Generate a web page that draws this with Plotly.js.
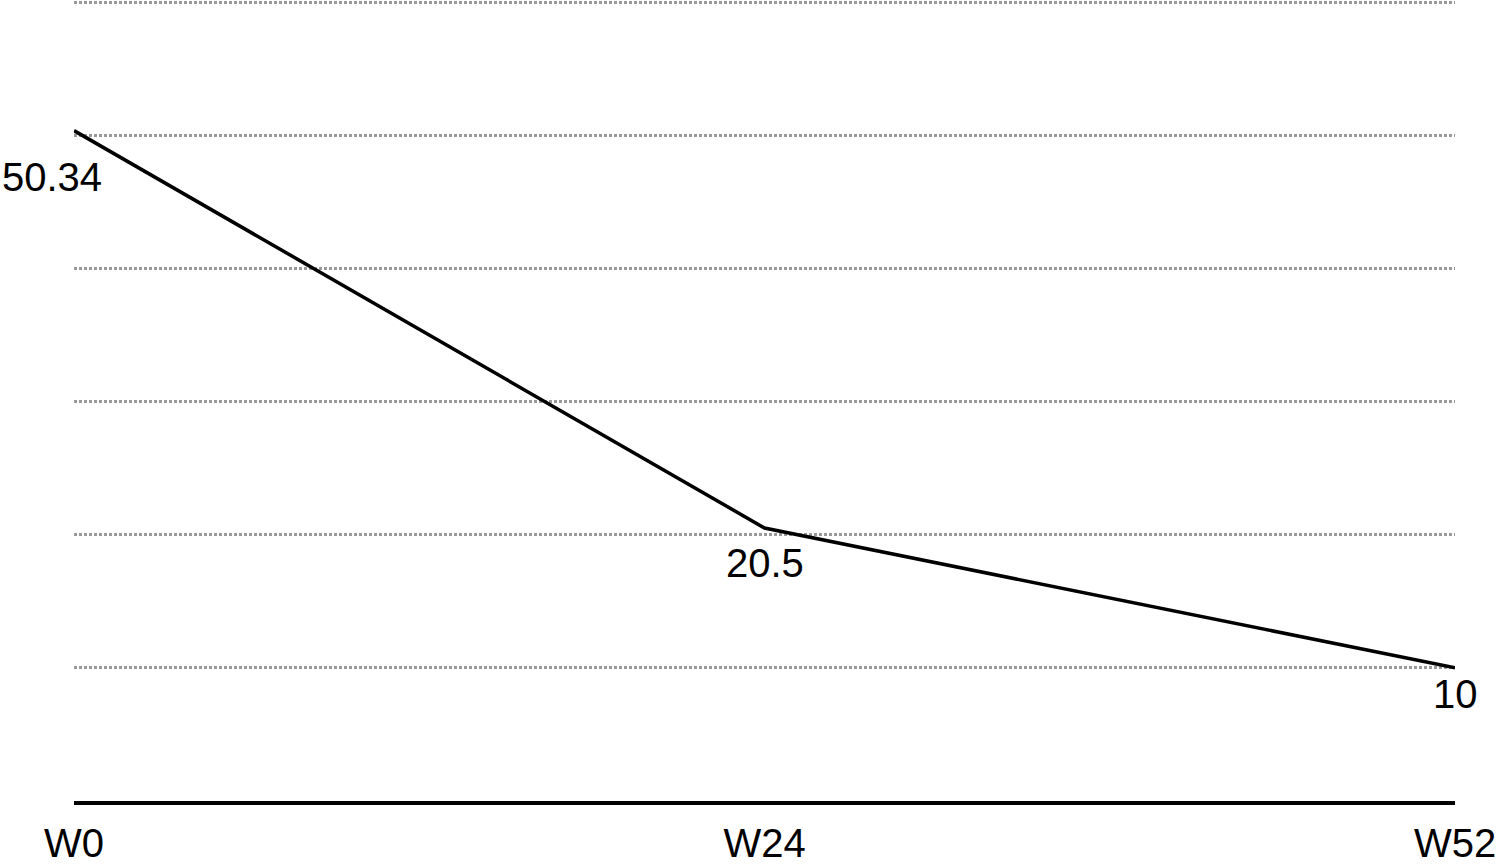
<!DOCTYPE html>
<html>
<head>
<meta charset="utf-8">
<script src="https://cdn.plot.ly/plotly-3.0.1.min.js"></script>
<style>html,body{margin:0;padding:0;background:#fff;}#chart{width:1500px;height:867px;}</style>
</head>
<body>
<div id="chart"></div>
<script>
const categories = ["W0", "W24", "W52"];
const values = [50.34, 20.5, 10];
const labels = ["50.34", "20.5", "10"];
const yTicks = [0, 10, 20, 30, 40, 50, 60];

// label offsets (styling)
const labelShiftX = [-22, 0, 0];
const labelShiftY = [-46, -35, -26];

const trace = {
  x: categories,
  y: values,
  type: "scatter",
  mode: "lines",
  line: {color: "#000", width: 3.5},
  hoverinfo: "skip",
  cliponaxis: false
};

const annotations = categories.map((c, i) => ({
  x: c, y: values[i], xref: "x", yref: "y",
  text: labels[i], showarrow: false,
  xshift: labelShiftX[i], yshift: labelShiftY[i],
  font: {family: "Liberation Sans, Arial, Helvetica, sans-serif", size: 40, color: "#000"}
}));

const layout = {
  width: 1500, height: 867,
  margin: {l: 74, r: 45, t: 0, b: 66, pad: 0},
  paper_bgcolor: "#fff", plot_bgcolor: "#fff",
  showlegend: false,
  font: {family: "Liberation Sans, Arial, Helvetica, sans-serif", size: 40, color: "#000"},
  xaxis: {
    type: "category", range: [0, 2],
    showgrid: false, zeroline: false,
    showline: true, linecolor: "#000", linewidth: 3.5,
    ticks: "", ticklabelstandoff: 4,
    tickfont: {size: 40, color: "#000"}
  },
  yaxis: {
    range: [0, 60.15], tickvals: yTicks,
    showticklabels: false, zeroline: false,
    showgrid: true, gridcolor: "#999999", gridwidth: 3, griddash: "3px,2px",
    showline: false
  },
  annotations: annotations
};

Plotly.newPlot("chart", [trace], layout, {staticPlot: true, displayModeBar: false});
</script>
</body>
</html>
